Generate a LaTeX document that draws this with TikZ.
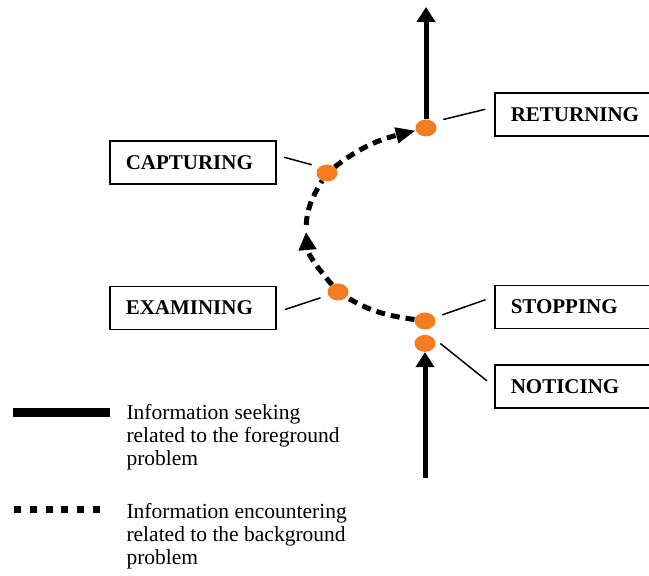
\documentclass[tikz,border=0pt]{standalone}
\usepackage{fontspec}
\setmainfont{Liberation Serif}
\usetikzlibrary{arrows.meta,positioning,shapes.geometric}

\definecolor{dotorange}{RGB}{245,124,32}

\tikzset{
  phase/.style={draw, line width=1.5pt, minimum height=43pt, text width=134pt,
    align=left, inner xsep=16pt, anchor=west, font=\fontsize{21}{23}\selectfont\bfseries},
  spot/.style={ellipse, fill=dotorange, minimum width=21pt, minimum height=17pt, inner sep=0pt},
  seek/.style={line width=5pt, -{Triangle[width=18pt,length=15pt]}},
  encounter/.style={line width=5pt, dash pattern=on 9pt off 6pt},
  leader/.style={line width=1.5pt},
  legend/.style={anchor=base west, align=left, font=\fontsize{21.5}{23}\selectfont}
}

\begin{document}
\begin{tikzpicture}[x=1pt,y=1pt]
        \useasboundingbox (0,0) rectangle (649,576);
        \clip (0,0) rectangle (649,576);
        % Define nodes
        % points on the loop
        \node[spot](sdot) at (425,255){}; %
        \node[spot,below=5pt of sdot](ndot){}; %
        \node[spot](edot) at (338,284){}; %
        \node[spot](cdot) at (327,403){}; %
        \node[spot](rdot) at (426,448){}; %
        \coordinate (bend) at (306,344);
        \coordinate (start) at (425,98);
        \coordinate (exit) at (426,569);
        % stage labels
        \node[phase](ret) at (494,461.5){RETURNING}; %
        \node[phase](capt) at (109,413.5){CAPTURING}; %
        \node[phase](exam) at (109,268){EXAMINING}; %
        \node[phase](stop) at (494,269){STOPPING}; %
        \node[phase](notice) at (494,189.5){NOTICING}; %
        % foreground seeking
        \draw[seek] (start) -- (ndot);
        \draw[seek] (rdot) -- (exit);
        % background encountering
        \draw[encounter] (sdot) to[out=172,in=-31] (edot);
        \draw[encounter,-{Triangle[width=17pt,length=18pt]}] (edot) to[out=130,in=-85] (bend);
        \draw[encounter,shorten <=7pt] (bend) to[out=88,in=-122] (cdot);
        \draw[encounter,-{Triangle[width=15pt,length=20pt]}] (cdot) to[out=38,in=194] (rdot);
        % leaders
        \draw[leader,shorten <=10pt,shorten >=9pt] (rdot.north east) -- (ret.175);
        \draw[leader,shorten <=8pt,shorten >=8pt] (capt.5) -- (cdot.north west);
        \draw[leader,shorten <=9pt,shorten >=8pt] (exam.357) -- (edot);
        \draw[leader,shorten <=8pt,shorten >=9pt] (sdot) -- (stop.173);
        \draw[leader,shorten <=10pt,shorten >=9pt] (ndot.north east) -- (notice.west);
        % legend
        \coordinate (sa) at (13,163.5);
        \coordinate (sb) at (110,163.5);
        \coordinate (ea) at (14,66);
        \coordinate (eb) at (101,66);
        \draw[line width=9pt] (sa) -- (sb);
        \draw[line width=7pt,dash pattern=on 7pt off 8.8pt] (ea) -- (eb);
        \node[legend](seektext) at (123,110){Information seeking\\related to the foreground\\problem}; %
        \node[legend](enctext) at (123,11){Information encountering\\related to the background\\problem}; %
\end{tikzpicture}
\end{document}
